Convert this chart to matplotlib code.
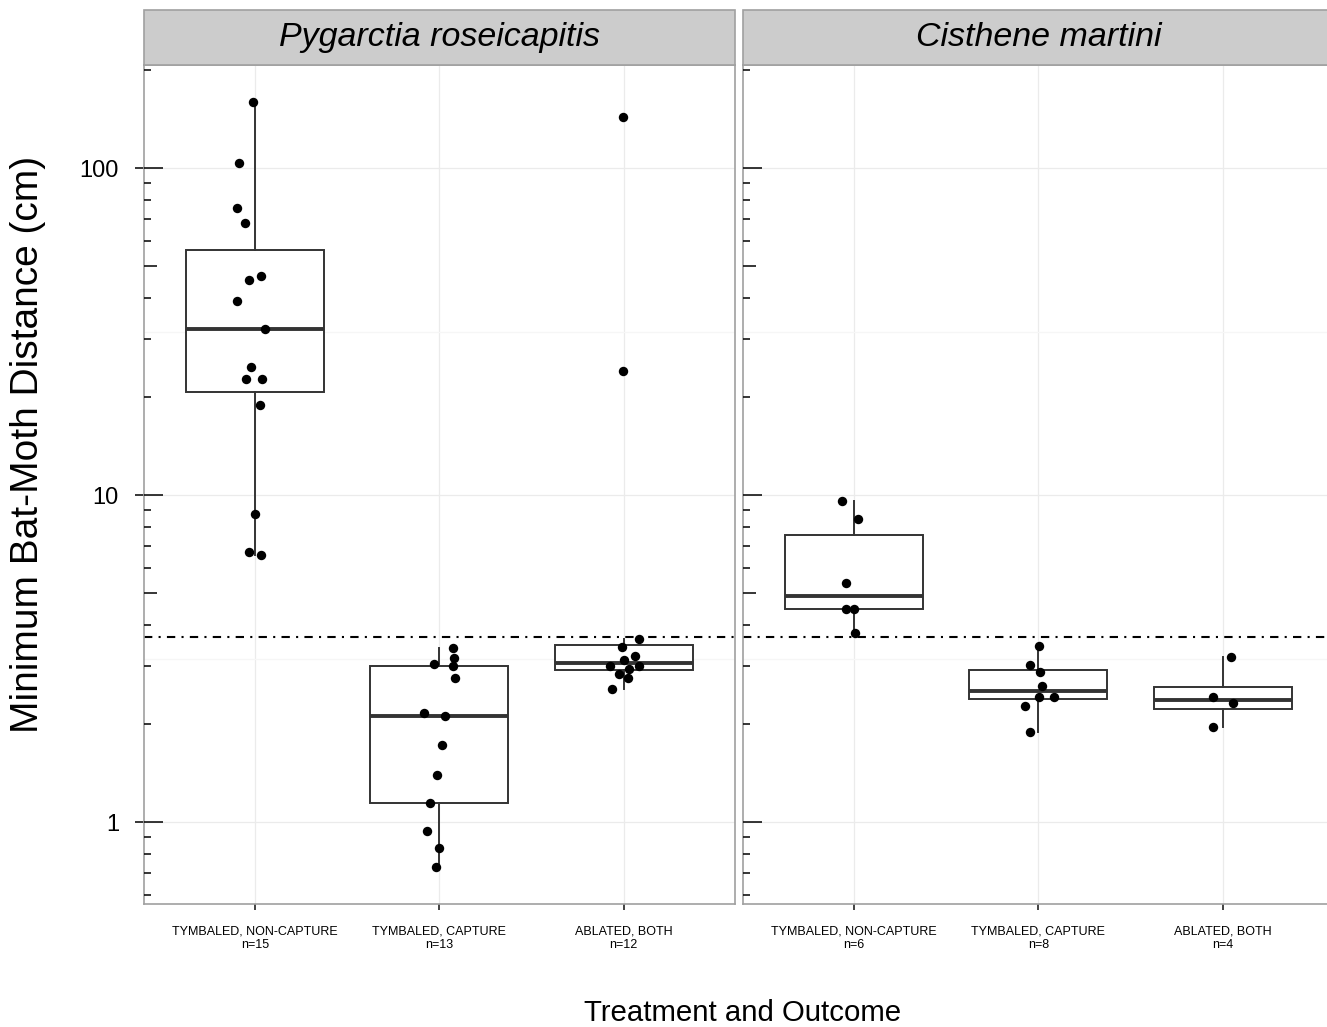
import numpy as np
import matplotlib
matplotlib.use("Agg")
import matplotlib.pyplot as plt
import matplotlib.transforms as mtransforms
from matplotlib import cbook
from matplotlib.patches import Rectangle

plt.rcParams['font.family'] = ['Liberation Sans', 'DejaVu Sans']

# ---------------- data ----------------
species = ["Pygarctia roseicapitis", "Cisthene martini"]
categories = ["TYMBALED, NON-CAPTURE", "TYMBALED, CAPTURE", "ABLATED, BOTH"]

# Pygarctia roseicapitis
pr_noncapture = [159, 103.3, 75.3, 67.7, 46.7, 45.4, 39.3, 32.3, 24.6, 22.7, 22.6, 18.8, 8.77, 6.68, 6.57]
pr_capture = [3.41, 3.17, 3.04, 2.99, 2.76, 2.15, 2.11, 1.72, 1.39, 1.146, 0.941, 0.835, 0.730]
pr_ablated = [143, 23.9, 3.63, 3.44, 3.23, 3.14, 3.01, 3.01, 2.94, 2.84, 2.76, 2.56]
# Cisthene martini
cm_noncapture = [9.59, 8.46, 5.38, 4.48, 4.47, 3.79]
cm_capture = [3.45, 3.02, 2.88, 2.61, 2.42, 2.42, 2.26, 1.89]
cm_ablated = [3.20, 2.41, 2.31, 1.95]

# horizontal jitter of each point (category units)
pr_noncapture_jit = [-0.01, -0.085, -0.094, -0.053, 0.036, -0.031, -0.094, 0.058, -0.018, -0.049, 0.042, 0.027, 0.002, -0.029, 0.036]
pr_capture_jit = [0.074, 0.08, -0.027, 0.072, 0.085, -0.084, 0.031, 0.016, -0.014, -0.05, -0.066, 0.0, -0.02]
pr_ablated_jit = [-0.005, -0.005, 0.083, -0.011, 0.059, 0.002, -0.072, 0.083, 0.027, -0.025, 0.025, -0.065]
cm_noncapture_jit = [-0.062, 0.023, -0.04, -0.04, 0.002, 0.009]
cm_capture_jit = [0.002, -0.042, 0.011, 0.02, 0.002, 0.086, -0.07, -0.047]
cm_ablated_jit = [0.043, -0.052, 0.058, -0.054]

threshold = 3.69
y_ticks = [1, 10, 100]
y_tick_labels = ["1", "10", "100"]

panels = [
    (species[0], [pr_noncapture, pr_capture, pr_ablated], [pr_noncapture_jit, pr_capture_jit, pr_ablated_jit]),
    (species[1], [cm_noncapture, cm_capture, cm_ablated], [cm_noncapture_jit, cm_capture_jit, cm_ablated_jit]),
]

# ---------------- layout ----------------
W, H = 1327, 1027
fig = plt.figure(figsize=(W / 100, H / 100), dpi=100)
fig.patch.set_facecolor("white")

p_top, p_bot = 64.5, 904.0
p_w = 590.5
lefts = [144.0, 743.0]
strip_h = 54.5
ylo, yhi = 0.5614, 207.3

border = "#A0A0A0"
grid_major = "#EBEBEB"
grid_minor = "#F6F6F6"
box_col = "#333333"

for i, (sp, groups, jits) in enumerate(panels):
    ax = fig.add_axes([lefts[i] / W, (H - p_bot) / H, p_w / W, (p_bot - p_top) / H])
    ax.set_yscale("log")
    ax.set_facecolor("white")
    for s in ax.spines.values():
        s.set_color(border)
        s.set_linewidth(1.2)
        s.set_zorder(5)

    pos = np.arange(1, len(categories) + 1)

    # boxplots computed on log scale
    stats = []
    for g in groups:
        st = cbook.boxplot_stats(np.log10(g), whis=1.5)[0]
        for k in ("med", "q1", "q3", "whislo", "whishi", "mean"):
            st[k] = 10 ** st[k]
        st["fliers"] = []
        stats.append(st)
    ax.bxp(stats, positions=pos, widths=0.75, showcaps=False, showfliers=False,
           patch_artist=True, manage_ticks=False,
           boxprops=dict(facecolor="white", edgecolor=box_col, linewidth=1.4),
           whiskerprops=dict(color=box_col, linewidth=1.4),
           medianprops=dict(color=box_col, linewidth=2.8, solid_capstyle="butt"),
           zorder=2)

    # points
    for p, g, j in zip(pos, groups, jits):
        ax.scatter(p + np.array(j), g, s=46, color="black", linewidths=0, zorder=4)

    # threshold line
    ax.axhline(threshold, color="black", lw=1.5, linestyle=(0, (4, 3, 1, 3)), zorder=3)

    ax.set_xlim(0.4, 3.6)
    ax.set_ylim(ylo, yhi)

    # grid
    ax.set_yticks(y_ticks)
    ax.set_yticks([10 ** 0.5, 10 ** 1.5], minor=True)
    ax.yaxis.set_minor_formatter(matplotlib.ticker.NullFormatter())
    ax.grid(True, which="major", axis="both", color=grid_major, lw=0.9, zorder=0)
    ax.grid(True, which="minor", axis="y", color=grid_minor, lw=0.9, zorder=0)
    ax.set_axisbelow(True)
    ax.tick_params(axis="y", which="minor", length=0)

    ax.set_xticks(pos)
    ax.set_xticklabels([f"{c}\nn={len(g)}" for c, g in zip(categories, groups)], fontsize=9)
    ax.tick_params(axis="x", length=4.5, width=1.2, color="#222222", pad=11)
    for lab in ax.get_xticklabels():
        lab.set_linespacing(1.15)

    if i == 0:
        ax.set_yticklabels(y_tick_labels)
        ax.tick_params(axis="y", which="major", length=6.5, width=1.1, color="black",
                       pad=11.5, labelsize=17)
    else:
        ax.tick_params(axis="y", which="major", length=0, labelleft=False)

    # log ticks inside the panel (annotation_logticks)
    trans = mtransforms.blended_transform_factory(ax.transAxes, ax.transData)
    for dec in [0.1, 1, 10, 100]:
        for m in range(1, 10):
            v = m * dec
            if ylo <= v <= yhi:
                L = 19 if m == 1 else (13 if m == 5 else 7)
                ax.plot([0, L / p_w], [v, v], transform=trans, color="black", lw=1.1,
                        solid_capstyle="butt", clip_on=False, zorder=6)

    # strip
    ax.add_patch(Rectangle((0, 1), 1, strip_h / (p_bot - p_top), transform=ax.transAxes,
                           facecolor="#CCCCCC", edgecolor=border, lw=1.2, clip_on=False, zorder=7))
    ax.text(0.5, 1 + strip_h / 2 / (p_bot - p_top), sp, transform=ax.transAxes,
            ha="center", va="center", fontsize=24.5, style="italic", zorder=8)

fig.text(28 / W, 1 - 444 / H, "Minimum Bat-Moth Distance (cm)", rotation=90,
         ha="center", va="center", fontsize=28)
fig.text(743 / W, 1 - 1013 / H, "Treatment and Outcome", ha="center", va="center", fontsize=21.2)

fig.savefig("out.png", dpi=100, facecolor="white")
